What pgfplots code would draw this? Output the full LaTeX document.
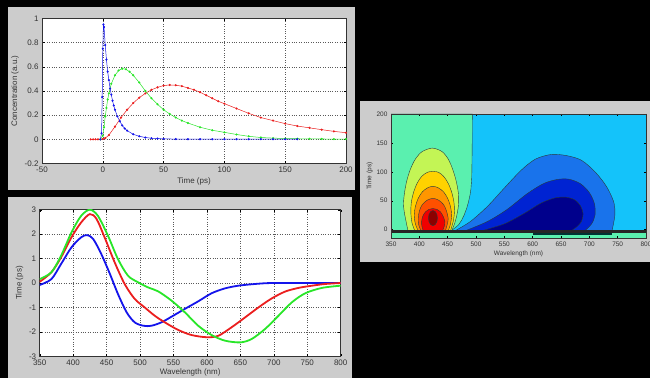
\documentclass[border=0pt]{standalone}
\usepackage{pgfplots}
\pgfplotsset{compat=1.18}
\usepackage{fontspec}
\setmainfont{Liberation Sans}
\definecolor{panel}{RGB}{204,204,204}
\definecolor{cblue}{RGB}{20,20,235}
\definecolor{cred}{RGB}{235,30,30}
\definecolor{cgreen}{RGB}{40,230,40}
\definecolor{seafoam}{RGB}{90,240,175}
\definecolor{skyb}{RGB}{20,195,250}
\definecolor{bone}{RGB}{25,115,235}
\definecolor{btwo}{RGB}{0,35,210}
\definecolor{bthree}{RGB}{0,0,140}
\definecolor{lone}{RGB}{195,245,85}
\definecolor{ltwo}{RGB}{255,210,0}
\definecolor{lthree}{RGB}{255,150,0}
\definecolor{lfour}{RGB}{255,80,0}
\definecolor{lfive}{RGB}{240,0,0}
\definecolor{lsix}{RGB}{140,0,0}
\definecolor{cline}{RGB}{40,60,60}
\pgfplotsset{
  mstyle/.style={scale only axis, axis background/.style={fill=white},
    tick style={black, line width=0.4pt}, major tick length=2.5pt,
    axis line style={black!80, line width=0.5pt},
    tick label style={font=\fontsize{8}{9}\selectfont, text=black!80},
    label style={font=\fontsize{8}{9}\selectfont, text=black!80},
    /pgf/number format/assume math mode=true},
  mgrid/.style={grid=major, grid style={dotted, black!65, line width=0.5pt}},
  lobe/.style={smooth, fill=#1, draw=cline, line width=0.4pt}
}
\begin{document}
\begin{tikzpicture}[x=1pt,y=1pt]
\useasboundingbox (0,0) rectangle (650,378);
\fill[black] (0,0) rectangle (650,378);
\fill[panel] (8,188) rectangle (355,371);
\fill[panel] (8,0) rectangle (352,181);
\fill[panel] (360,116) rectangle (650,277);

% ---------- Panel 1: concentrations ----------
\begin{axis}[mstyle, mgrid, at={(42pt,214.5pt)}, anchor=south west,
  width=304pt, height=145pt,
  xmin=-50, xmax=200, ymin=-0.2, ymax=1,
  xtick={-50,0,50,100,150,200},
  ytick={-0.2,0,0.2,0.4,0.6,0.8,1},
  yticklabels={-0.2,0,0.2,0.4,0.6,0.8,1},
  xlabel={Time (ps)}, ylabel={Concentration (a.u.)},
  xlabel style={yshift=2pt}, ylabel style={yshift=-1pt}]
\addplot[cred, line width=0.5pt, mark=*, mark size=0.8pt] coordinates {
(-10,0) (-8,0) (-6,0) (-4,0) (-2,0) (0,0.003) (2,0.01) (5,0.035) (10,0.105)
(15,0.18) (20,0.245) (25,0.30) (30,0.345) (35,0.38) (40,0.41) (45,0.43)
(50,0.445) (55,0.45) (60,0.448) (65,0.44) (70,0.425) (75,0.41) (80,0.39)
(85,0.365) (90,0.34) (95,0.315) (100,0.295) (110,0.255) (120,0.215)
(130,0.18) (140,0.155) (150,0.13) (160,0.11) (170,0.095) (180,0.08)
(190,0.066) (200,0.055)};
\addplot[cgreen, line width=0.5pt, mark=*, mark size=0.8pt] coordinates {
(-2,0) (0,0.03) (1,0.10) (2,0.19) (3,0.26) (4,0.33) (5,0.38) (7,0.46)
(10,0.53) (13,0.57) (16,0.585) (19,0.58) (22,0.56) (25,0.53) (30,0.47)
(35,0.40) (40,0.34) (45,0.29) (50,0.245) (55,0.21) (60,0.18) (65,0.155)
(70,0.135) (80,0.10) (90,0.075) (100,0.058) (110,0.04) (120,0.025)
(130,0.015) (140,0.01) (150,0.007) (160,0.005) (170,0.004) (180,0.003)
(190,0.002) (200,0.002)};
\addplot[cblue, line width=0.5pt, mark=*, mark size=0.8pt] coordinates {
(-2,0) (-1,0.05) (-0.5,0.35) (0,0.75) (0.5,0.95) (1,0.93) (2,0.78)
(3,0.66) (4,0.56) (5,0.49) (6,0.42) (7,0.37) (8,0.32) (9,0.28) (10,0.245)
(12,0.19) (14,0.15) (16,0.115) (18,0.09) (20,0.072) (25,0.042) (30,0.025)
(35,0.015) (40,0.009) (45,0.006) (50,0.004) (60,0.002) (70,0.001)
(80,0.001) (90,0.001) (100,0.001) (110,0.001) (120,0.001) (130,0.001)
(140,0.001) (150,0.001) (160,0.001)};
\end{axis}

% ---------- Panel 2: spectra ----------
\begin{axis}[mstyle, mgrid, at={(39.7pt,21.7pt)}, anchor=south west,
  width=301pt, height=146.6pt,
  xmin=350, xmax=800, ymin=-3, ymax=3,
  xtick={350,400,...,800}, ytick={-3,-2,-1,0,1,2,3},
  xlabel={Wavelength (nm)}, ylabel={Time (ps)},
  xlabel style={yshift=3.5pt}, ylabel style={yshift=-1pt}]
\addplot[cblue, line width=1.8pt, smooth] coordinates {
(350,-0.08) (367.5,0.16) (382,0.78) (397.5,1.46) (412,1.87) (421,1.96)
(430,1.80) (442,1.19) (455,0.37) (467,-0.45) (480,-1.2) (492,-1.61)
(505,-1.75) (517,-1.75) (532,-1.61) (547,-1.38) (567,-1.06) (587,-0.75)
(607,-0.42) (627,-0.22) (647,-0.11) (672,-0.04) (697,0) (750,0) (800,0)};
\addplot[cred, line width=1.8pt, smooth] coordinates {
(350,0.05) (367.5,0.44) (382,1.05) (397.5,1.87) (412,2.48) (425,2.82)
(435,2.62) (447,1.87) (462,0.85) (477,-0.04) (492,-0.65) (507,-1.0)
(522,-1.34) (537,-1.61) (557,-1.92) (577,-2.13) (600,-2.22) (617,-2.16)
(637,-1.81) (657,-1.41) (677,-1.0) (697,-0.63) (717,-0.35) (737,-0.2)
(757,-0.11) (777,-0.04) (800,0)};
\addplot[cgreen, line width=1.8pt, smooth] coordinates {
(350,0.16) (367.5,0.44) (382,1.12) (397.5,2.07) (412,2.75) (425,3.0)
(437,2.75) (452,1.94) (467,0.98) (482,0.3) (497,0.03) (512,-0.18)
(527,-0.34) (547,-0.72) (567,-1.2) (587,-1.75) (607,-2.13) (627,-2.36)
(650,-2.43) (667,-2.29) (687,-1.88) (707,-1.34) (727,-0.79) (747,-0.42)
(772,-0.2) (800,-0.11)};
\end{axis}

% ---------- Panel 3: contour map ----------
\begin{axis}[mstyle, axis on top, at={(391pt,139.7pt)}, anchor=south west,
  width=255pt, height=124.3pt,
  xmin=350, xmax=800, ymin=-15, ymax=200,
  xtick={350,400,...,800}, ytick={0,50,100,150,200},
  major tick length=2pt,
  tick label style={font=\fontsize{6.5}{7.5}\selectfont},
  label style={font=\fontsize{6.5}{7.5}\selectfont},
  xlabel={Wavelength (nm)}, ylabel={Time (ps)},
  xlabel style={yshift=3pt}, ylabel style={yshift=-3pt}]
\addplot[fill=skyb, draw=none] coordinates {(350,-15) (800,-15) (800,200) (350,200)};
\addplot[fill=seafoam, draw=cline, line width=0.4pt] coordinates {
(350,-2) (350,200) (493.5,200) (493.3,150) (492.8,110) (492.4,88.6)
(491,70) (489.4,59.7) (486.5,47) (483.5,36.7) (479,25) (474.7,16.4)
(469,8) (462.9,3.1) (456,-2)};
% warm lobes
\addplot[lobe=lone] coordinates {
(380,-2) (377,12) (373.5,30) (372,45) (374,65) (378,85) (384,104)
(393,122) (405,135) (423,141) (440,135) (451,122) (459,104) (465,84)
(469,62) (469,42) (466,24) (462,10) (457,-2)};
\addplot[lobe=ltwo] coordinates {
(392,-2) (387,12) (385,30) (386,48) (390,65) (396,80) (404,92) (414,99)
(424,101) (434,99) (443,92) (451,80) (457,65) (461,48) (462,32) (460,15)
(455,-2)};
\addplot[lobe=lthree] coordinates {
(398,-2) (393,10) (391,25) (393,40) (398,54) (405,65) (414,72) (424,75)
(434,72) (443,65) (450,54) (455,40) (457,25) (455,10) (451,-2)};
\addplot[lobe=lfour] coordinates {
(403,-2) (399,8) (398,19) (400,32) (405,43) (414,51) (424,54) (434,51)
(443,43) (448,32) (451,19) (449,8) (446,-2)};
\addplot[lobe=lfive] coordinates {
(407,-2) (404.5,6) (404,14) (406,23) (411,31) (417,35) (424,36.6)
(431,35) (437,31) (442,23) (445,14) (444,6) (441,-2)};
\addplot[lobe=lsix] coordinates {
(424,7) (428,8.7) (430.9,13.5) (432,20) (430.9,26.5) (428,31.3) (424,33)
(420,31.3) (417.1,26.5) (416,20) (417.1,13.5) (420,8.7) (424,7)};
% cold lobes
\addplot[lobe=bone] coordinates {
(463,-2) (490,14) (520,40) (550,72) (580,103) (605,122) (633,130)
(660,128) (686,120) (710,100) (730,75) (743,48) (745,25) (740,-2)};
\addplot[lobe=btwo] coordinates {
(481,-2) (520,14) (555,35) (590,62) (620,80) (645,87) (665,87) (685,79)
(700,64) (709,45) (710,25) (704,10) (692,-2)};
\addplot[lobe=bthree] coordinates {
(510,-2) (550,10) (585,28) (615,46) (640,55) (660,56) (675,51) (685,40)
(689,27) (686,14) (678,5) (668,-2)};
% early-time strip
\addplot[fill=seafoam, draw=none] coordinates {(350,-15) (800,-15) (800,-5.5) (350,-5.5)};
\addplot[fill=black!85, draw=none] coordinates {(350,-5.5) (800,-5.5) (800,-1.5) (350,-1.5)};
\addplot[fill=black!60!teal, draw=none] coordinates {(600,-9) (740,-9) (740,-5.5) (600,-5.5)};
\end{axis}
\end{tikzpicture}
\end{document}
